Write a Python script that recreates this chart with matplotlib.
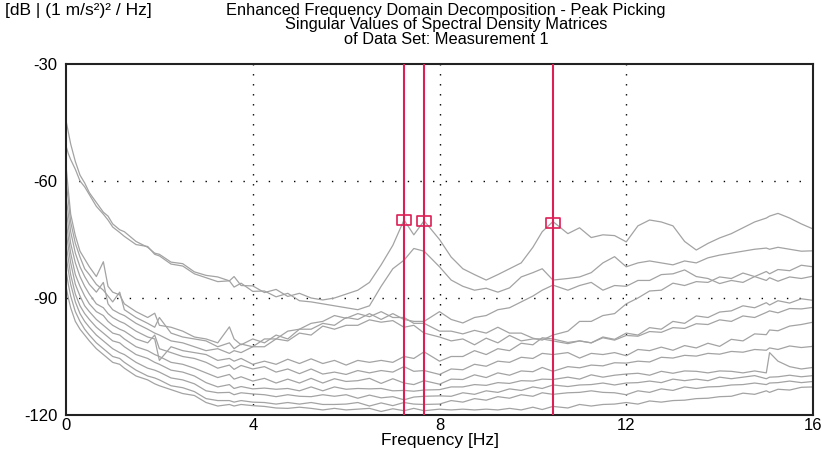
import numpy as np
import matplotlib
matplotlib.use('Agg')
import matplotlib.pyplot as plt
from matplotlib.path import Path

plt.rcParams['font.family'] = ['Liberation Sans', 'DejaVu Sans']

# Frequency grid (Hz) at which the singular value curves were read
freq = [0, 0.05, 0.1, 0.2, 0.3, 0.4, 0.5, 0.65, 0.8, 0.9,
        1.0, 1.15, 1.25, 1.5, 1.75, 1.9, 2.0, 2.25, 2.5, 2.75,
        3.0, 3.25, 3.5, 3.6, 3.75, 4.0, 4.25, 4.5, 4.75, 5.0,
        5.25, 5.5, 5.75, 6.0, 6.25, 6.5, 6.75, 7.0, 7.24, 7.45,
        7.67, 8.0, 8.25, 8.5, 8.75, 9.0, 9.25, 9.5, 9.75, 10.0,
        10.2, 10.43, 10.75, 11.0, 11.25, 11.5, 11.75, 12.0, 12.25, 12.5,
        12.75, 13.0, 13.25, 13.5, 13.75, 14.0, 14.25, 14.5, 14.75, 15.0,
        15.07, 15.25, 15.5, 15.75, 16.0]

sv1 = [-44.5, -47.5, -50.5, -55.0, -58.5, -60.5, -63.0, -65.5, -68.0, -69.0,
       -71.0, -72.5, -73.0, -75.5, -77.0, -78.5, -78.8, -80.8, -81.2, -83.3,
       -84.2, -84.6, -85.6, -84.5, -86.8, -86.9, -88.6, -87.8, -89.6, -88.8,
       -90.0, -90.5, -90.0, -89.0, -88.0, -86.0, -81.5, -76.5, -70.0, -73.8,
       -70.2, -75.0, -79.5, -82.5, -84.0, -85.4, -84.0, -82.5, -81.0, -77.0,
       -73.0, -70.4, -73.5, -72.0, -74.5, -73.8, -74.0, -75.6, -71.5, -70.0,
       -70.5, -71.5, -75.5, -77.7, -76.0, -74.6, -73.5, -72.0, -70.5, -69.5,
       -69.0, -68.3, -69.5, -71.0, -72.3]
sv2 = [-51.0, -53.0, -54.5, -57.0, -60.0, -61.5, -63.5, -66.5, -68.5, -70.0,
       -71.8, -73.2, -74.2, -76.3, -76.8, -78.8, -79.2, -81.3, -81.8, -83.8,
       -84.8, -85.8, -85.6, -87.2, -86.2, -88.3, -88.2, -89.7, -88.8, -90.7,
       -91.0, -91.5, -92.0, -92.5, -93.0, -92.0, -87.0, -82.5, -80.3, -77.3,
       -78.0, -82.0, -85.4, -87.0, -88.0, -87.5, -88.5, -87.4, -84.6, -83.5,
       -82.5, -85.4, -85.0, -84.6, -83.5, -81.0, -79.4, -82.0, -81.0, -80.5,
       -81.0, -81.5, -80.5, -81.0, -79.7, -79.0, -78.5, -78.0, -77.5, -77.2,
       -77.5, -77.0, -77.5, -78.0, -77.9]
sv3 = [-56.0, -62.5, -68.5, -74.0, -78.0, -80.0, -82.0, -84.5, -80.7, -87.0,
       -88.5, -89.2, -91.5, -93.5, -95.0, -93.9, -97.0, -97.5, -98.5, -100.0,
       -100.5, -101.5, -97.4, -100.5, -102.0, -100.5, -101.5, -99.5, -100.5, -98.0,
       -98.0, -96.5, -97.0, -95.0, -95.5, -94.0, -95.5, -94.0, -95.5, -96.0,
       -96.0, -93.5, -95.5, -96.4, -95.0, -94.5, -93.0, -92.5, -91.0, -89.5,
       -88.0, -86.7, -88.0, -86.8, -86.0, -88.0, -86.8, -87.0, -85.5, -85.5,
       -84.0, -83.8, -82.8, -84.5, -85.0, -86.3, -85.5, -86.0, -84.5, -85.5,
       -84.8, -85.7, -84.6, -85.0, -84.4]
sv4 = [-60.0, -65.0, -70.5, -76.0, -79.5, -82.5, -84.0, -86.5, -88.0, -89.5,
       -91.0, -88.5, -93.0, -95.0, -96.5, -97.5, -95.0, -99.0, -100.0, -100.5,
       -101.0, -102.5, -101.5, -103.0, -101.8, -102.5, -100.5, -100.5, -98.5, -98.0,
       -96.5, -96.0, -94.5, -95.2, -94.0, -94.8, -93.5, -95.0, -95.0, -96.5,
       -96.5, -98.5, -98.5, -99.2, -98.3, -99.0, -97.5, -99.0, -99.0, -100.3,
       -100.8, -99.5, -98.5, -96.0, -96.0, -94.5, -94.0, -91.5, -90.0, -88.2,
       -88.0, -86.2, -86.8, -85.8, -86.0, -84.6, -85.0, -83.6, -84.5, -83.2,
       -83.8, -82.7, -83.0, -81.6, -82.0]
sv5 = [-64.0, -68.5, -73.0, -78.5, -82.0, -84.5, -86.5, -88.5, -86.0, -91.5,
       -93.0, -94.0, -94.5, -96.5, -98.0, -99.0, -99.5, -101.0, -101.5, -102.5,
       -103.5, -103.0, -104.2, -103.5, -104.0, -102.5, -102.5, -100.5, -101.0, -99.0,
       -99.5, -97.2, -98.0, -97.0, -97.0, -95.6, -96.2, -95.8, -97.5, -97.0,
       -99.0, -100.0, -101.0, -100.5, -102.0, -100.3, -101.5, -99.6, -101.0, -100.5,
       -100.5, -101.0, -101.7, -101.0, -101.5, -100.0, -100.6, -99.0, -99.5, -97.6,
       -98.0, -96.0, -96.5, -94.6, -95.0, -93.6, -93.3, -92.0, -92.5, -91.2,
       -91.8, -90.7, -91.3, -90.2, -90.6]
sv6 = [-67.0, -71.5, -76.0, -81.0, -84.5, -87.0, -89.0, -91.5, -92.5, -94.0,
       -95.0, -96.0, -96.5, -98.5, -100.0, -100.5, -106.0, -102.5, -103.5, -104.0,
       -104.5, -106.0, -105.5, -106.2, -105.5, -107.0, -106.2, -107.0, -105.7, -106.8,
       -105.6, -106.8, -106.0, -107.2, -106.0, -106.5, -106.0, -106.5, -105.0, -105.5,
       -103.8, -106.2, -105.0, -105.0, -103.5, -104.5, -103.0, -103.5, -101.6, -102.0,
       -100.2, -100.5, -101.4, -101.0, -101.5, -100.2, -100.8, -99.6, -99.8, -98.6,
       -98.8, -97.6, -97.8, -96.6, -96.8, -95.6, -96.0, -94.6, -95.0, -93.7,
       -93.3, -93.8, -92.7, -92.8, -92.4]
sv7 = [-70.0, -74.5, -78.5, -84.0, -87.0, -89.5, -91.5, -93.5, -94.5, -96.0,
       -97.0, -98.0, -98.5, -100.5, -101.5, -99.5, -103.0, -104.0, -105.0, -105.5,
       -106.5, -108.0, -107.2, -108.3, -107.3, -108.2, -107.6, -109.0, -108.2, -109.4,
       -108.2, -109.5, -109.0, -109.6, -108.6, -109.2, -108.6, -109.0, -107.6, -108.8,
       -108.6, -109.6, -108.2, -108.4, -107.0, -107.5, -106.2, -106.5, -105.2, -105.5,
       -104.2, -104.5, -104.0, -105.4, -104.2, -104.5, -104.0, -104.8, -103.2, -103.5,
       -102.6, -103.4, -102.2, -102.8, -101.6, -102.4, -100.6, -101.0, -99.2, -99.4,
       -98.2, -98.4, -97.2, -96.8, -96.2]
sv8 = [-73.0, -77.0, -81.0, -86.5, -89.5, -92.0, -93.5, -95.5, -97.0, -98.0,
       -99.0, -99.5, -100.5, -102.5, -103.5, -104.5, -105.0, -106.5, -107.0, -108.0,
       -109.2, -110.4, -109.6, -110.8, -110.2, -111.3, -110.6, -111.8, -110.8, -111.8,
       -110.6, -111.8, -110.7, -111.4, -111.2, -110.6, -111.9, -110.7, -111.8, -112.2,
       -111.2, -112.1, -110.8, -110.9, -109.7, -110.4, -109.2, -109.8, -108.7, -108.9,
       -107.8, -108.8, -107.6, -107.9, -107.2, -107.4, -106.6, -106.7, -106.2, -106.4,
       -105.2, -105.4, -104.7, -104.9, -104.2, -104.4, -103.7, -103.9, -103.2, -103.4,
       -102.8, -103.2, -102.3, -102.7, -102.4]
sv9 = [-76.0, -80.0, -84.0, -89.0, -92.0, -94.0, -95.5, -97.5, -99.0, -100.0,
       -101.0, -101.5, -102.5, -104.5, -105.5, -106.5, -107.0, -108.5, -109.0, -110.0,
       -111.7, -112.8, -112.2, -113.2, -112.7, -113.3, -113.1, -113.4, -113.2, -113.8,
       -112.8, -113.8, -112.8, -113.4, -113.2, -113.3, -113.2, -113.8, -113.7, -113.9,
       -113.6, -113.5, -112.8, -112.8, -112.2, -112.4, -111.7, -111.9, -111.2, -111.3,
       -110.8, -110.9, -110.3, -110.8, -109.7, -110.3, -109.8, -109.5, -109.3, -109.8,
       -108.8, -109.3, -108.7, -108.8, -109.2, -108.7, -108.8, -109.2, -108.7, -109.2,
       -104.0, -106.2, -107.6, -108.2, -107.8]
sv10 = [-79.0, -83.0, -86.5, -91.0, -94.0, -96.0, -97.5, -99.5, -101.0, -102.0,
        -103.0, -104.0, -104.5, -106.5, -108.0, -108.5, -109.0, -110.5, -111.0, -112.0,
        -113.8, -114.3, -114.2, -114.8, -114.3, -114.6, -114.8, -115.3, -114.8, -115.2,
        -115.3, -114.8, -115.2, -114.8, -115.7, -114.9, -115.6, -115.3, -116.1, -115.4,
        -115.2, -115.1, -115.2, -114.3, -114.7, -113.8, -114.2, -113.3, -113.7, -112.8,
        -113.2, -112.3, -112.7, -112.3, -112.2, -111.8, -112.3, -111.8, -111.7, -111.3,
        -111.7, -110.8, -111.2, -110.8, -111.2, -110.3, -110.7, -110.3, -109.9, -110.7,
        -110.3, -110.2, -109.8, -110.2, -109.9]
sv11 = [-83.0, -86.5, -89.5, -93.5, -96.0, -98.0, -99.5, -101.5, -103.0, -104.0,
        -105.0, -105.5, -106.5, -108.5, -110.0, -110.5, -111.0, -112.5, -113.0, -114.0,
        -115.8, -116.3, -116.3, -116.7, -116.3, -116.7, -116.8, -117.2, -116.8, -117.2,
        -116.8, -117.3, -117.3, -117.2, -116.8, -117.7, -116.9, -117.6, -116.8, -117.2,
        -117.3, -117.2, -116.3, -116.7, -115.8, -116.2, -115.3, -115.7, -114.8, -115.2,
        -114.3, -114.7, -114.3, -114.2, -113.8, -114.2, -114.3, -114.8, -113.8, -114.2,
        -113.3, -113.7, -112.8, -113.2, -112.8, -112.7, -112.3, -112.2, -111.8, -112.2,
        -111.8, -111.7, -111.3, -111.7, -111.4]
sv12 = [-87.0, -90.0, -92.5, -96.0, -98.0, -99.5, -101.0, -103.0, -104.5, -105.5,
        -106.5, -107.0, -108.0, -110.0, -111.0, -112.0, -112.5, -113.5, -114.5, -115.0,
        -116.8, -117.7, -117.3, -117.7, -117.3, -117.6, -117.8, -118.2, -118.3, -118.0,
        -118.3, -118.7, -118.3, -118.7, -118.5, -118.3, -119.1, -118.4, -118.9, -118.3,
        -118.9, -118.5, -118.7, -118.5, -118.7, -118.5, -118.7, -118.3, -118.7, -118.0,
        -118.6, -117.8, -118.2, -117.3, -117.7, -117.3, -117.2, -116.8, -117.2, -116.4,
        -116.7, -116.3, -116.2, -115.8, -115.7, -115.3, -115.2, -114.4, -114.7, -113.8,
        -114.2, -113.4, -113.6, -112.9, -112.8]

peak_freqs = [7.24, 7.67, 10.43]
peak_db = [-70.0, -70.2, -70.8]

x_ticks = [0, 4, 8, 12, 16]
y_ticks = [-30, -60, -90, -120]

title_lines = ["Enhanced Frequency Domain Decomposition - Peak Picking",
               "Singular Values of Spectral Density Matrices",
               "of Data Set: Measurement 1"]
unit_label = "[dB | (1 m/s\u00b2)\u00b2 / Hz]"
x_label = "Frequency [Hz]"

W, H = 822, 454
fig = plt.figure(figsize=(W / 100, H / 100), dpi=100)
ax = fig.add_axes([66 / W, 1 - 415 / H, (813 - 66) / W, (415 - 64) / H])

curves = [sv1, sv2, sv3, sv4, sv5, sv6, sv7, sv8, sv9, sv10, sv11, sv12]
for s in curves:
    ax.plot(freq, s, color='#a3a3a3', lw=0.9, zorder=2)

red = '#dc1f55'
for f in peak_freqs:
    ax.axvline(f, color=red, lw=1.5, zorder=3)

rect = Path([(-0.5, -0.32), (0.5, -0.32), (0.5, 0.32), (-0.5, 0.32), (-0.5, -0.32)],
            [Path.MOVETO, Path.LINETO, Path.LINETO, Path.LINETO, Path.CLOSEPOLY])
ax.plot(peak_freqs, peak_db, ls='none', marker=rect, ms=10.5,
        mfc='none', mec=red, mew=1.2, zorder=4)

# dotted grid
for x in x_ticks[1:-1]:
    ax.plot([x, x], [-120, -30], color='black', lw=1.0, ls=(0, (1, 6.2)), zorder=1)
for y in y_ticks[1:-1]:
    ax.plot([0, 16], [y, y], color='black', lw=1.0, ls=(0, (1, 8.1)), zorder=1)

ax.set_xlim(0, 16)
ax.set_ylim(-120, -30)
ax.set_xticks(x_ticks)
ax.set_xticklabels([str(v) for v in x_ticks])
ax.set_yticks(y_ticks)
ax.set_yticklabels([str(v) for v in y_ticks])
ax.tick_params(length=0, labelsize=12, colors='black')
ax.tick_params(axis='y', pad=6)
ax.tick_params(axis='x', pad=2)
for sp in ax.spines.values():
    sp.set_color('#222222')
    sp.set_linewidth(1.5)

fs = 11.8
fig.text(446 / W, 1 - 10 / H, title_lines[0], ha='center', va='center', fontsize=fs)
fig.text(446 / W, 1 - 25 / H, title_lines[1], ha='center', va='center', fontsize=fs)
fig.text(446 / W, 1 - 40 / H, title_lines[2], ha='center', va='center', fontsize=fs)
fig.text(5 / W, 1 - 10 / H, unit_label, ha='left', va='center', fontsize=12.5)
fig.text(440 / W, 1 - 440 / H, x_label, ha='center', va='center', fontsize=12.5)

fig.savefig('out.png', dpi=100, facecolor='white')
